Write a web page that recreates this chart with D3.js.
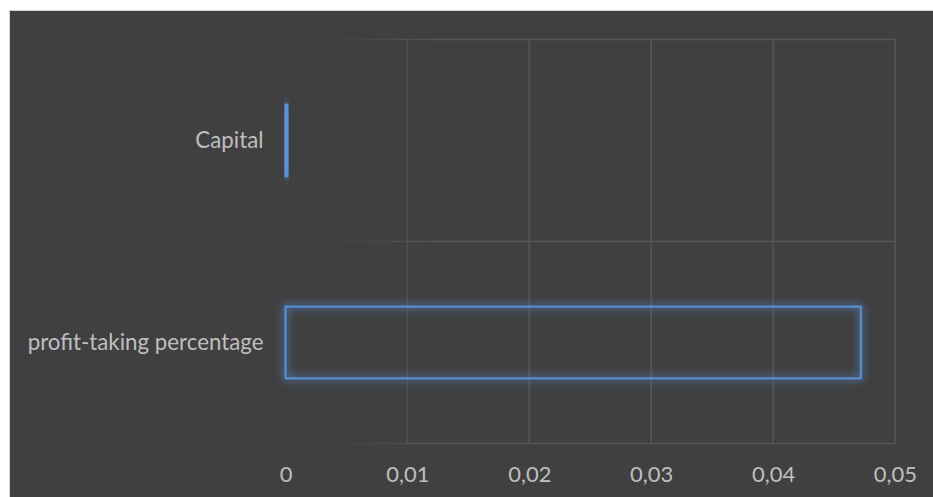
<!DOCTYPE html>
<html>
<head>
<meta charset="utf-8">
<script src="https://cdn.jsdelivr.net/npm/d3@7"></script>
<style>
  html, body { margin: 0; padding: 0; background: #ffffff; }
  svg { display: block; }
</style>
</head>
<body>
<svg id="chart" width="933" height="497"></svg>
<script>
// Categories listed top to bottom, with their values
const categories = ["Capital", "profit-taking percentage"];
const values = [0.00015, 0.0472];
const tickValues = [0, 0.01, 0.02, 0.03, 0.04, 0.05];
const tickLabels = ["0", "0,01", "0,02", "0,03", "0,04", "0,05"];

const W = 933, H = 497;
const plot = { left: 285.5, right: 895, top: 39.5, bottom: 443.5 };
const font = "Lato, 'Open Sans', sans-serif";
const textColor = "#bfbfbf";
const gridColor = "#575757";
const barColor = "#5892dc";

const svg = d3.select("#chart");
const defs = svg.append("defs");

// Soft blue glow around the bar outlines
const glow = defs.append("filter").attr("id", "glow")
  .attr("x", "-50%").attr("y", "-50%").attr("width", "200%").attr("height", "200%");
glow.append("feGaussianBlur").attr("in", "SourceGraphic").attr("stdDeviation", 4).attr("result", "blur");
glow.append("feComponentTransfer").attr("in", "blur").attr("result", "soft")
  .append("feFuncA").attr("type", "linear").attr("slope", 1.4);
const merge = glow.append("feMerge");
merge.append("feMergeNode").attr("in", "soft");
merge.append("feMergeNode").attr("in", "SourceGraphic");

// Gridlines fade out toward the value axis origin
const grad = defs.append("linearGradient").attr("id", "fade")
  .attr("gradientUnits", "userSpaceOnUse")
  .attr("x1", plot.left + 20).attr("x2", plot.left + 150).attr("y1", 0).attr("y2", 0);
grad.append("stop").attr("offset", "0").attr("stop-color", "#fff").attr("stop-opacity", 0);
grad.append("stop").attr("offset", "0.5").attr("stop-color", "#fff").attr("stop-opacity", 0.35);
grad.append("stop").attr("offset", "1").attr("stop-color", "#fff").attr("stop-opacity", 1);
defs.append("mask").attr("id", "gridMask").attr("maskUnits", "userSpaceOnUse")
  .attr("x", 0).attr("y", 0).attr("width", W).attr("height", H)
  .append("rect").attr("x", 0).attr("y", 0).attr("width", W).attr("height", H)
  .attr("fill", "url(#fade)");

// Chart area frame
svg.append("rect")
  .attr("x", 9.5).attr("y", 10.5).attr("width", W + 20).attr("height", H + 20)
  .attr("fill", "#404040").attr("stroke", "#d4d4d4").attr("stroke-width", 1);

const x = d3.scaleLinear().domain([0, 0.05]).range([plot.left, plot.right]);
const y = d3.scaleBand().domain(categories)
  .range([plot.top, plot.bottom])
  .paddingInner(0.645).paddingOuter(0.3225);

// Gridlines
const grid = svg.append("g").attr("mask", "url(#gridMask)")
  .attr("stroke", gridColor).attr("stroke-width", 1.5).attr("fill", "none");
grid.selectAll("line.v").data(tickValues.filter(d => d > 0)).join("line")
  .attr("class", "v")
  .attr("x1", d => x(d)).attr("x2", d => x(d))
  .attr("y1", plot.top).attr("y2", plot.bottom);
const step = y.step();
const hLines = [plot.top, plot.top + step, plot.bottom];
grid.selectAll("line.h").data(hLines).join("line")
  .attr("class", "h")
  .attr("x1", plot.left).attr("x2", plot.right)
  .attr("y1", d => d).attr("y2", d => d);

// Bars: outlined, no fill
svg.append("g").selectAll("rect").data(categories).join("rect")
  .attr("x", x(0))
  .attr("y", d => y(d))
  .attr("width", (d, i) => x(values[i]) - x(0))
  .attr("height", y.bandwidth())
  .attr("fill", "none")
  .attr("stroke", barColor)
  .attr("stroke-width", 2)
  .attr("filter", "url(#glow)");

// Value axis labels
const xAxis = d3.axisBottom(x).tickValues(tickValues)
  .tickFormat((d, i) => tickLabels[i]).tickSize(0).tickPadding(0);
const gx = svg.append("g").attr("transform", `translate(0, ${plot.bottom + 23})`).call(xAxis);
gx.select(".domain").remove();
gx.selectAll("text").attr("fill", textColor).attr("font-family", font)
  .attr("font-size", 22).attr("dy", "0.71em");

// Category axis labels
const yAxis = d3.axisLeft(y).tickSize(0).tickPadding(22);
const gy = svg.append("g").attr("transform", `translate(${plot.left}, 0)`).call(yAxis);
gy.select(".domain").remove();
gy.selectAll("text").attr("fill", textColor).attr("font-family", font)
  .attr("font-size", 22.3).attr("dy", "0.35em");
</script>
</body>
</html>
